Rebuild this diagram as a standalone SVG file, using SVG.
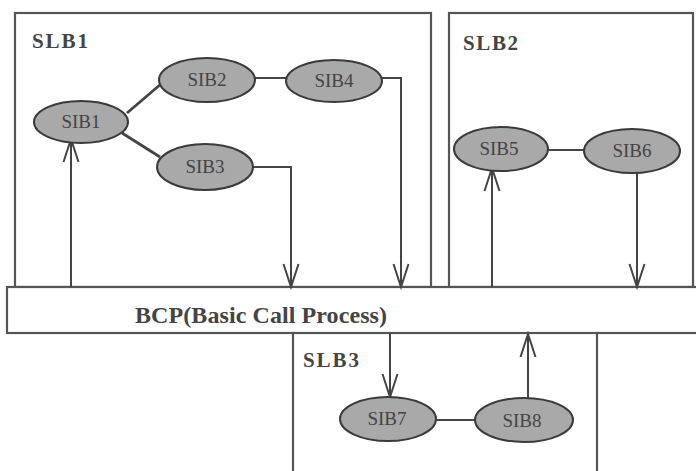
<svg xmlns="http://www.w3.org/2000/svg" width="696" height="471" viewBox="0 0 696 471">
<style>
.box{fill:none;stroke:#555;stroke-width:2.2}
.bar{fill:#fff;stroke:#555;stroke-width:2.2}
.sib{fill:#a9a9a9;stroke:#3a3a3a;stroke-width:2}
.lbl{font-family:"Liberation Serif",serif;font-size:19px;fill:#444;text-anchor:middle}
.title{font-family:"Liberation Serif",serif;font-weight:bold;font-size:21px;fill:#444}
.bcp{font-family:"Liberation Serif",serif;font-weight:bold;font-size:24px;fill:#444}
.con{fill:none;stroke:#444;stroke-width:2}
.thick{stroke-width:2.8}
</style>
<defs>
<marker id="arr" markerUnits="userSpaceOnUse" markerWidth="26" markerHeight="20" refX="24" refY="10" orient="auto" overflow="visible">
<path d="M1,2.5 L24,10 L1,17.5" fill="none" stroke="#444" stroke-width="2"/>
</marker>
</defs>
<rect width="696" height="471" fill="#fff"/>
<g id="SLB1">
<rect class="box" x="15" y="13" width="416" height="274"/>
<text class="title" x="32" y="48" textLength="56">SLB1</text>
</g>
<g id="SLB2">
<rect class="box" x="449" y="13" width="244" height="274"/>
<text class="title" x="463" y="50" textLength="55">SLB2</text>
</g>
<g id="SLB3">
<line class="box" x1="293" y1="333" x2="293" y2="471"/>
<line class="box" x1="597" y1="331" x2="597" y2="471"/>
<text class="title" x="303" y="367" textLength="56">SLB3</text>
</g>
<g id="BCP">
<rect class="bar" x="7" y="287" width="700" height="46"/>
<text class="bcp" x="135" y="323" textLength="252">BCP(Basic Call Process)</text>
</g>
<g id="connectors">
<line class="con thick" x1="127" y1="113" x2="161" y2="84"/>
<line class="con thick" x1="122" y1="133" x2="160" y2="157"/>
<line class="con" x1="255" y1="78" x2="286" y2="78"/>
<polyline class="con" points="381,78 401,78 401,287" marker-end="url(#arr)"/>
<polyline class="con" points="253,167 291,167 291,287" marker-end="url(#arr)"/>
<line class="con" x1="71" y1="287" x2="71" y2="139" marker-end="url(#arr)"/>
<line class="con" x1="492" y1="287" x2="492" y2="168" marker-end="url(#arr)"/>
<line class="con" x1="548" y1="150" x2="584" y2="150"/>
<line class="con" x1="637" y1="172" x2="637" y2="287" marker-end="url(#arr)"/>
<line class="con" x1="390" y1="333" x2="390" y2="397" marker-end="url(#arr)"/>
<line class="con" x1="528" y1="398" x2="528" y2="334" marker-end="url(#arr)"/>
<line class="con" x1="436" y1="420" x2="475" y2="420"/>
</g>
<g id="SIB1"><ellipse class="sib" cx="81" cy="122" rx="47" ry="21"/><text class="lbl" x="81" y="128">SIB1</text></g>
<g id="SIB2"><ellipse class="sib" cx="207" cy="80" rx="48" ry="22"/><text class="lbl" x="207" y="86">SIB2</text></g>
<g id="SIB3"><ellipse class="sib" cx="205" cy="167" rx="48" ry="23"/><text class="lbl" x="205" y="173">SIB3</text></g>
<g id="SIB4"><ellipse class="sib" cx="334" cy="81" rx="48" ry="21"/><text class="lbl" x="334" y="87">SIB4</text></g>
<g id="SIB5"><ellipse class="sib" cx="501" cy="149" rx="47" ry="22"/><text class="lbl" x="499" y="155">SIB5</text></g>
<g id="SIB6"><ellipse class="sib" cx="632" cy="151" rx="48" ry="22"/><text class="lbl" x="632" y="157">SIB6</text></g>
<g id="SIB7"><ellipse class="sib" cx="388" cy="419" rx="48" ry="22"/><text class="lbl" x="387" y="425">SIB7</text></g>
<g id="SIB8"><ellipse class="sib" cx="524" cy="420" rx="49" ry="22"/><text class="lbl" x="522" y="427">SIB8</text></g>
</svg>
